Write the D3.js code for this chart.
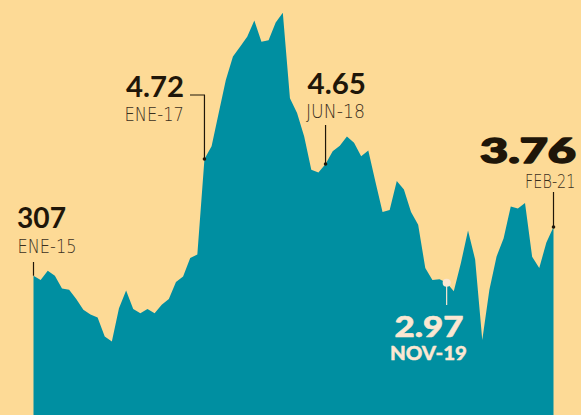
<!DOCTYPE html>
<html>
<head>
<meta charset="utf-8">
<script src="https://cdn.jsdelivr.net/npm/d3@7"></script>
<style>
  html, body { margin: 0; padding: 0; background: #fdda96; }
  svg { display: block; }
</style>
</head>
<body>
<div id="chart"></div>
<script>
'use strict';

// monthly values, ENE-15 .. FEB-21
const values = [
  3.07, 3.01, 3.14, 3.07, 2.89, 2.87, 2.74, 2.59, 2.52, 2.48, 2.21, 2.14,
  2.61, 2.86, 2.60, 2.54, 2.60, 2.54, 2.66, 2.74, 2.98, 3.06, 3.32, 3.37,
  4.72, 4.90, 5.37, 5.84, 6.17, 6.31, 6.45, 6.68, 6.38, 6.40, 6.65, 6.79,
  5.58, 5.37, 5.04, 4.57, 4.53, 4.65, 4.83, 4.91, 5.04, 4.95, 4.76, 4.84,
  4.40, 3.97, 4.00, 4.41, 4.29, 3.97, 3.79, 3.18, 3.01, 3.02, 2.97, 2.85,
  3.25, 3.71, 3.30, 2.16, 2.87, 3.34, 3.60, 4.05, 4.02, 4.10, 3.34, 3.18,
  3.54, 3.76
];

// annotated months (index into values) and their labels
const noteIndex = [0, 24, 41, 58, 73];
const noteValue = ["307", "4.72", "4.65", "2.97", "3.76"];
const noteDate = ["ENE-15", "ENE-17", "JUN-18", "NOV-19", "FEB-21"];

const width = 581, height = 415;
const bg = "#fdda96", teal = "#008fa1", ink = "#1f1609", cream = "#fbe7d2";

const svg = d3.select("#chart").append("svg")
  .attr("width", width)
  .attr("height", height);

svg.append("rect").attr("width", width).attr("height", height).attr("fill", bg);

const x = d3.scaleLinear()
  .domain([0, values.length - 1])
  .range([33.5, 553.5]);

const y = d3.scaleLinear()
  .domain([1.1, 6.97])
  .range([height, 0]);

const area = d3.area()
  .x((d, i) => x(i))
  .y0(height)
  .y1(d => y(d));

svg.append("path")
  .datum(values)
  .attr("fill", teal)
  .attr("d", area);

// text placed with its left edge at lx, squeezed/stretched to width len
function label(txt, lx, ly, opts) {
  let t = svg.append("text")
    .attr("x", 0).attr("y", 0)
    .style("font-family", opts.family || "Lato, 'Open Sans', sans-serif")
    .style("font-weight", opts.weight || 700)
    .style("font-size", opts.size + "px")
    .attr("fill", opts.fill || ink)
    .text(txt);
  if (opts.stroke) {
    t.attr("stroke", opts.fill || ink).attr("stroke-width", opts.stroke)
      .attr("stroke-linejoin", "round");
  }
  let natural = t.node().getComputedTextLength();
  let sx = opts.len ? opts.len / natural : 1;
  t.attr("transform", `translate(${lx},${ly}) scale(${sx},1)`);
  return t;
}

function leader(points, color) {
  svg.append("path")
    .attr("d", d3.line()(points))
    .attr("fill", "none")
    .attr("stroke", color || ink)
    .attr("stroke-width", 1.2);
}

function dot(i, color, r) {
  svg.append("circle")
    .attr("cx", x(i)).attr("cy", y(values[i]))
    .attr("r", r || 1.8)
    .attr("fill", color || ink);
}

function light(len) {
  return { size: 20, weight: 200, family: "'DejaVu Sans', Lato, sans-serif",
           fill: "#3b2f1d", len: len };
}

// ENE-15
let p = noteIndex[0];
label(noteValue[0], 17, 228, { size: 29, len: 49 });
label(noteDate[0], 17.5, 253, light(59));
leader([[x(p), 262], [x(p), y(values[p])]]);

// ENE-17
p = noteIndex[1];
label(noteValue[1], 126, 97, { size: 29, len: 58 });
label(noteDate[1], 124.5, 121, light(59.5));
leader([[190, 95], [x(p), 95], [x(p), y(values[p])]]);
dot(p);

// JUN-18
p = noteIndex[2];
label(noteValue[2], 307.5, 94, { size: 29, len: 58.5 });
label(noteDate[2], 306, 118, light(59));
leader([[x(p), 125], [x(p), y(values[p])]]);
dot(p);

// NOV-19
p = noteIndex[3];
leader([[x(p), y(values[p])], [x(p), 305]], cream);
dot(p, cream, 4);
label(noteValue[3], 394.5, 337, { size: 29, fill: cream, weight: 900, len: 69, stroke: 0.6 });
label(noteDate[3], 390, 360, { size: 18, fill: cream, weight: 900, len: 77, stroke: 0.4 });

// FEB-21
p = noteIndex[4];
label(noteValue[4], 480, 163, { size: 35, weight: 900, len: 96, stroke: 1.6 });
label(noteDate[4], 525, 188, light(50.5));
leader([[x(p), 192], [x(p), y(values[p])]]);
dot(p);
</script>
</body>
</html>
